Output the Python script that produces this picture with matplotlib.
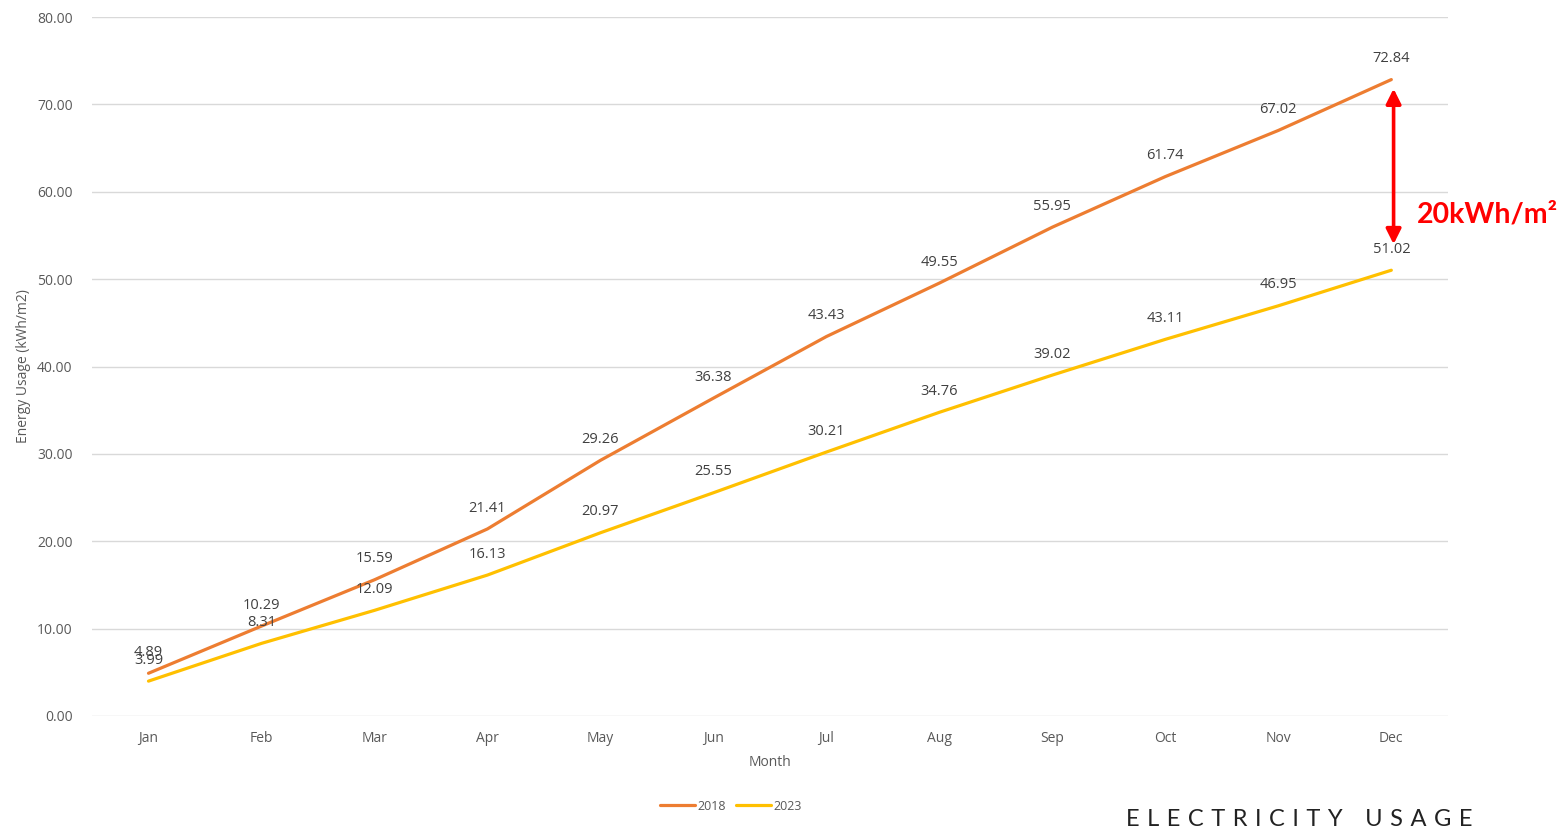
import matplotlib.pyplot as plt
import numpy as np

months = ['Jan', 'Feb', 'Mar', 'Apr', 'May', 'Jun',
          'Jul', 'Aug', 'Sep', 'Oct', 'Nov', 'Dec']
usage_2018 = [4.89, 10.29, 15.59, 21.41, 29.26, 36.38,
              43.43, 49.55, 55.95, 61.74, 67.02, 72.84]
usage_2023 = [3.99, 8.31, 12.09, 16.13, 20.97, 25.55,
              30.21, 34.76, 39.02, 43.11, 46.95, 51.02]
yticks = np.arange(0, 90, 10)
title_words = ['ELECTRICITY', 'USAGE']

plt.rcParams['font.family'] = ['Open Sans', 'DejaVu Sans']
text_grey = '#595959'

fig = plt.figure(figsize=(15.62, 8.31), dpi=100)
ax = fig.add_axes([0.0589, 0.1384, 0.868, 0.8411])

x = np.arange(len(months))
series = [('2018', usage_2018, '#ED7D31'), ('2023', usage_2023, '#FFC000')]
for name, vals, col in series:
    ax.plot(x, vals, color=col, lw=2.3, label=name, solid_capstyle='round')
    for xi, v in zip(x, vals):
        ax.annotate(f'{v:.2f}', (xi, v), xytext=(0, 15), textcoords='offset points',
                    ha='center', va='center', fontsize=10.5, color='#404040')

ax.set_xlim(-0.5, len(months) - 0.5)
ax.set_ylim(0, 80)
ax.set_yticks(yticks)
ax.set_yticklabels([f'{t:.2f}' for t in yticks])
ax.set_xticks(x)
ax.set_xticklabels(months)
ax.tick_params(length=0, colors=text_grey, labelsize=10)
ax.tick_params(axis='y', pad=14)
ax.tick_params(axis='x', pad=11)
ax.grid(axis='y', color='#D9D9D9', lw=1)
ax.set_axisbelow(True)
for s in ax.spines.values():
    s.set_visible(False)

ax.set_xlabel('Month', color=text_grey, fontsize=10, labelpad=6)
ax.set_ylabel('Energy Usage (kWh/m2)', color=text_grey, fontsize=10, labelpad=4)

# gap between the two years in December
ax.annotate('', xy=(11.02, 71.8), xytext=(11.02, 54.0),
            arrowprops=dict(arrowstyle='<|-|>,head_length=0.9,head_width=0.45',
                            color='#FF0000', lw=2.6, shrinkA=0, shrinkB=0))
fig.text(1487 / 1562, 1 - 214 / 831, '20kWh/m²', color='#FF0000', fontsize=20.5,
         fontweight='bold', ha='center', va='center', family=['Lato', 'DejaVu Sans'])

fig.legend(loc='center', bbox_to_anchor=(0.468, 0.030), ncol=2, frameon=False,
           fontsize=9, handlelength=2.8, columnspacing=0.8, handletextpad=0.2,
           labelcolor=text_grey)

# letter-spaced footer title
gap = ' \u200a'
title = (gap * 3).join(gap.join(w) for w in title_words)
fig.text(1473 / 1562, 1 - 820 / 831, title, ha='right', va='center',
         fontsize=17, fontweight='normal', color='#222222',
         family=['Lato', 'DejaVu Sans'])

fig.savefig('out.png', dpi=100)
